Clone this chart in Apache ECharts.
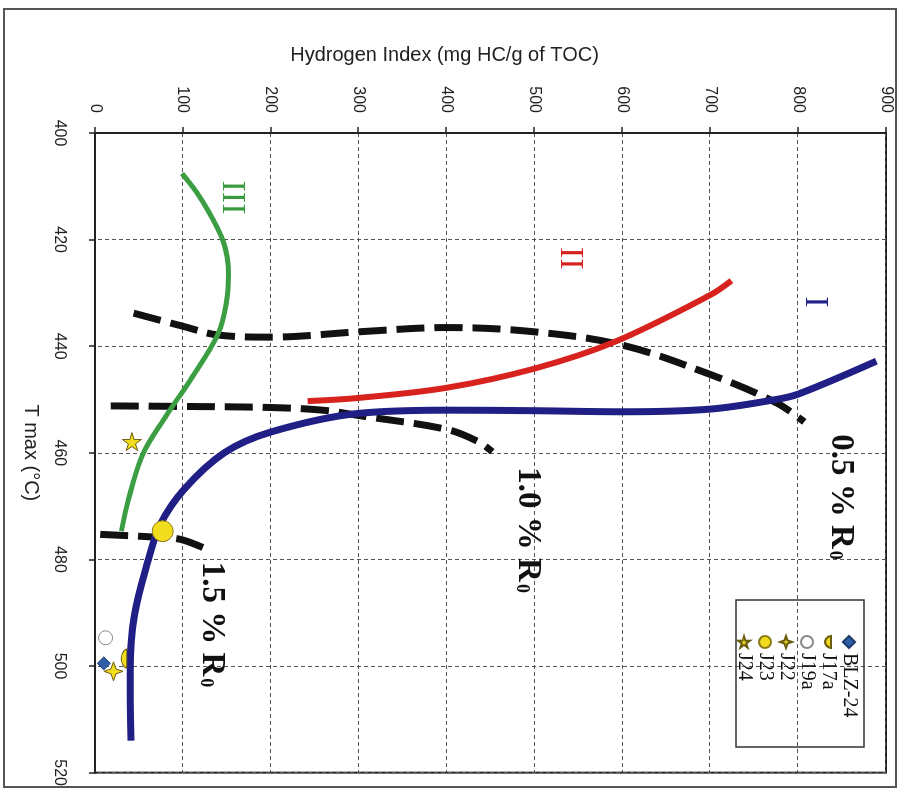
<!DOCTYPE html>
<html><head><meta charset="utf-8">
<script src="https://cdn.jsdelivr.net/npm/echarts@6/dist/echarts.min.js"></script>
<style>
html,body{margin:0;padding:0;background:#fff;overflow:hidden;width:905px;height:789px;}
#chart{position:absolute;left:0;top:0;width:789px;height:905px;transform-origin:0 0;transform:translate(905px,0) rotate(90deg);}
</style></head><body><div id="chart"></div>
<script>
// Axis ranges / ticks
const tmaxTicks = [400, 420, 440, 460, 480, 500, 520];
const hiTicks = [0, 100, 200, 300, 400, 500, 600, 700, 800, 900];

// Curves, points as [Hydrogen Index, Tmax]
const typeI = [[41,514],[40,500.6],[45,490.4],[60,480.5],[74,473.5],[101,466.9],[147,460],[200,456.1],[300,452.6],[405,452.0],[500,452.1],[600,452.3],[700,451.8],[775,450],[800,449],[889,442.8]];
const typeII = [[242,450.3],[300,449.7],[400,447.8],[500,444.2],[591,439.2],[700,430.4],[724,427.7]];
const typeIII = [[99,407.6],[120,412.2],[146,420.4],[152,426.7],[150,431.3],[140,437.7],[109,446.2],[80,453.3],[54,460.4],[38,468.8],[30,474.7]];
const ro05 = [[44,433.8],[101,436.3],[140,437.9],[200,438.3],[300,437.3],[400,436.5],[500,437.3],[600,439.8],[700,445.3],[775,450.6],[807,454.2]];
const ro10 = [[18,451.2],[100,451.3],[200,451.5],[259,452],[300,453],[400,455.6],[436,457.9],[452,459.8]];
const ro15 = [[6,475.3],[87,476],[101,476.4],[126,478]];

// Samples
const sampleNames = ['BLZ-24', 'J17a', 'J19a', 'J22', 'J23', 'J24'];
const sampleHI = [10, 33, 12, 21, 77, 42];
const sampleTmax = [499.5, 498.6, 494.7, 501, 474.7, 457.9];

// Curve annotations: text, HI, Tmax
const annoText = ['III', 'II', 'I', '{m|0.5 % R}{s|0}', '{m|1.0 % R}{s|0}', '{m|1.5 % R}{s|0}'];
const annoHI = [156, 540, 819, 848, 492, 133];
const annoTmax = [412.1, 423.5, 431.7, 468.3, 474.5, 492.2];

const STAR5 = 'path://M0,50 L35,39 L35,2 L57,32 L91,21 L70,50 L91,79 L57,68 L35,98 L35,61 Z';
const STAR4 = 'path://M10,0 L12.6,7.4 L20,10 L12.6,12.6 L10,20 L7.4,12.6 L0,10 L7.4,7.4 Z';
const DOME = 'path://M0,0 L20,0 L19,4 Q15,10 10,10 Q5,10 1,4 Z';
const sampleStyle = [
  {symbol:'diamond', size:[13,13], color:'#2f5ea6', border:'#1d3a6a'},
  {symbol:DOME, size:[19,11], color:'#f1dc1e', border:'#6b5d10'},
  {symbol:'circle', size:14, color:'#ffffff', border:'#888888'},
  {symbol:STAR4, size:19, color:'#f1dc1e', border:'#6b5d10'},
  {symbol:'circle', size:21, color:'#f1dc1e', border:'#8a7a18'},
  {symbol:STAR5, size:19, color:'#f1dc1e', border:'#6b5d10'}
];
const annoStyle = [
  {color:'#3a9a40', size:34, weight:'normal'},
  {color:'#d6221e', size:34, weight:'normal'},
  {color:'#22228a', size:34, weight:'normal'},
  {color:'#111', size:33, weight:'bold'},
  {color:'#111', size:33, weight:'bold'},
  {color:'#111', size:33, weight:'bold'}
];

const flip = arr => arr.map(p => [p[1], p[0]]);
const chart = echarts.init(document.getElementById('chart'), null, {renderer:'canvas', width:789, height:905});

function lineSeries(name, data, color, width, dashed) {
  return {
    name: name, type:'line', data: flip(data), smooth:0.35, showSymbol:false, symbol:'none',
    silent:true, z: dashed ? 3 : 4,
    lineStyle:{color:color, width:width, type: dashed ? [28,10] : 'solid', cap:'butt'}
  };
}

const series = [
  lineSeries('0.5 % Ro', ro05, '#111', 7, true),
  lineSeries('1.0 % Ro', ro10, '#111', 7, true),
  lineSeries('1.5 % Ro', ro15, '#111', 7, true),
  lineSeries('Type III', typeIII, '#3c9e42', 5, false),
  lineSeries('Type II', typeII, '#d8221e', 6, false),
  lineSeries('Type I', typeI, '#1f1f86', 7, false)
];
sampleNames.forEach((n, i) => {
  const s = sampleStyle[i];
  series.push({
    name:n, type:'scatter', z:6,
    data:[[sampleTmax[i], sampleHI[i]]],
    symbol:s.symbol, symbolSize:s.size, symbolKeepAspect:true,
    itemStyle:{color:s.color, borderColor:s.border, borderWidth:1, opacity:1}
  });
});

const axisCommon = {
  type:'value',
  axisLine:{show:true, onZero:false, lineStyle:{color:'#222', width:2}},
  axisTick:{show:true, length:6, lineStyle:{color:'#222', width:1.5}},
  splitLine:{show:true, lineStyle:{color:'#555', width:1, type:[4,3]}},
  axisLabel:{fontSize:16, color:'#222', fontFamily:'Liberation Sans'}
};

chart.setOption({
  animation:false,
  backgroundColor:'#fff',
  grid:{left:133, right:12, top:19, bottom:95, show:true, borderColor:'#222', borderWidth:2, backgroundColor:'transparent'},
  xAxis: Object.assign({}, axisCommon, {
    min:tmaxTicks[0], max:tmaxTicks[tmaxTicks.length-1], interval:20,
    axisLabel: Object.assign({}, axisCommon.axisLabel, {margin:28}),
    name:'T max (°C)', nameLocation:'middle', nameGap:54,
    nameTextStyle:{fontSize:20, color:'#222', fontFamily:'Liberation Sans'}
  }),
  yAxis: Object.assign({}, axisCommon, {
    min:hiTicks[0], max:hiTicks[hiTicks.length-1], interval:100,
    axisLabel: Object.assign({}, axisCommon.axisLabel, {margin:20}),
    name:'Hydrogen Index (mg HC/g of TOC)', nameLocation:'middle', nameRotate:90, nameGap:68,
    nameTextStyle:{fontSize:20, color:'#222', fontFamily:'Liberation Sans', padding:[0,92,0,0]}
  }),
  legend:{
    data: sampleNames, orient:'vertical', left:630, top:41,
    itemWidth:12, itemHeight:12, itemGap:1,
    textStyle:{fontFamily:'Liberation Serif', fontSize:20, color:'#111', lineHeight:18}
  },
  series: series
});

const gfx = [
  {type:'rect', shape:{x:9, y:9, width:778, height:892}, style:{fill:'none', stroke:'#555', lineWidth:2}, silent:true},
  {type:'rect', shape:{x:600, y:41, width:147, height:128}, style:{fill:'none', stroke:'#333', lineWidth:1.5}, silent:true}
];
annoText.forEach((t, i) => {
  const p = chart.convertToPixel({gridIndex:0}, [annoTmax[i], annoHI[i]]);
  const st = annoStyle[i];
  const font = 'Liberation Serif, DejaVu Serif, serif';
  gfx.push({type:'text', x:p[0], y:p[1], z:10, silent:true,
    style:{text:t, fill:st.color, fontSize:st.size, fontWeight:st.weight, fontFamily:font, align:'center', verticalAlign:'middle',
      rich:{
        m:{fontSize:st.size, fontWeight:'bold', fontFamily:font, fill:st.color, lineHeight:38, verticalAlign:'middle'},
        s:{fontSize:18, fontWeight:'bold', fontFamily:font, fill:st.color, lineHeight:38, verticalAlign:'bottom', padding:[0,0,4,2]}
      }}});
});
chart.setOption({graphic: gfx});
</script></body></html>
